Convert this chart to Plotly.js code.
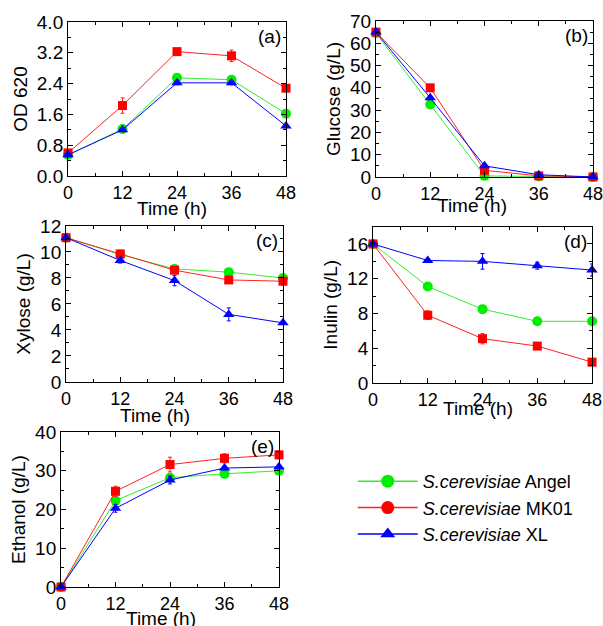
<!DOCTYPE html>
<html><head><meta charset="utf-8">
<script src="https://cdn.plot.ly/plotly-3.0.1.min.js"></script>
<style>body{margin:0;background:#fff}#c{width:603px;height:626px}</style>
</head><body><div id="c"></div>
<script>
const time = [0, 12, 24, 36, 48];
const strains = ['Angel', 'MK01', 'XL'];
// (a) OD620
const odAngel = [0.55, 1.22, 2.55, 2.50, 1.62];
const odMK01 = [0.60, 1.83, 3.23, 3.12, 2.28];
const odXL = [0.55, 1.20, 2.42, 2.42, 1.30];
const odAngelErr = [0.03, 0.05, 0.05, 0.05, 0.05];
const odMK01Err = [0.05, 0.20, 0.05, 0.15, 0.05];
const odXLErr = [0.03, 0.05, 0.05, 0.05, 0.05];
// (b) Glucose
const gluAngel = [64.5, 32.5, 0.5, 0.2, 0.0];
const gluMK01 = [65.0, 40.0, 3.0, 0.5, 0.0];
const gluXL = [65.0, 35.5, 5.0, 1.0, 0.0];
const gluAngelErr = [0.5, 0.8, 0.3, 0.2, 0.1];
const gluMK01Err = [0.5, 0.8, 0.5, 0.2, 0.1];
const gluXLErr = [0.5, 0.8, 0.8, 0.3, 0.1];
// (c) Xylose
const xylAngel = [11.1, 9.80, 8.70, 8.45, 8.00];
const xylMK01 = [11.1, 9.85, 8.60, 7.85, 7.75];
const xylXL = [11.1, 9.35, 7.80, 5.20, 4.55];
const xylAngelErr = [0.1, 0.1, 0.1, 0.1, 0.2];
const xylMK01Err = [0.1, 0.15, 0.15, 0.2, 0.3];
const xylXLErr = [0.1, 0.2, 0.4, 0.5, 0.1];
// (d) Inulin
const inuAngel = [16.0, 11.1, 8.5, 7.1, 7.1];
const inuMK01 = [16.0, 7.8, 5.1, 4.25, 2.4];
const inuXL = [16.0, 14.1, 14.0, 13.5, 13.0];
const inuAngelErr = [0.1, 0.2, 0.2, 0.3, 0.2];
const inuMK01Err = [0.2, 0.5, 0.6, 0.4, 0.2];
const inuXLErr = [0.2, 0.2, 0.9, 0.4, 0.7];
// (e) Ethanol
const ethAngel = [0.0, 22.3, 28.2, 29.2, 30.0];
const ethMK01 = [0.0, 24.7, 31.6, 33.2, 34.1];
const ethXL = [0.0, 20.3, 27.6, 30.7, 31.0];
const ethAngelErr = [0.3, 0.8, 0.8, 0.8, 0.5];
const ethMK01Err = [0.3, 1.3, 1.9, 1.2, 1.0];
const ethXLErr = [0.3, 1.0, 1.0, 0.5, 0.5];

const panelLabels = ['(a)', '(b)', '(c)', '(d)', '(e)'];
const yTitles = ['OD 620', 'Glucose (g/L)', 'Xylose (g/L)', 'Inulin (g/L)', 'Ethanol (g/L)'];
const xTitle = 'Time (h)';

const colors = {Angel: '#00ee00', MK01: '#ff0000', XL: '#0000ff'};
const lineColors = {Angel: '#33ee33', MK01: '#ff2222', XL: '#0000ff'};
const symbols = {Angel: 'circle', MK01: 'square', XL: 'triangle-up'};
const msize = {Angel: 10, MK01: 9, XL: 10};

const panels = [
  {ys: [odAngel, odMK01, odXL], es: [odAngelErr, odMK01Err, odXLErr]},
  {ys: [gluAngel, gluMK01, gluXL], es: [gluAngelErr, gluMK01Err, gluXLErr]},
  {ys: [xylAngel, xylMK01, xylXL], es: [xylAngelErr, xylMK01Err, xylXLErr]},
  {ys: [inuAngel, inuMK01, inuXL], es: [inuAngelErr, inuMK01Err, inuXLErr]},
  {ys: [ethAngel, ethMK01, ethXL], es: [ethAngelErr, ethMK01Err, ethXLErr]}
];

const traces = [];
panels.forEach((p, i) => {
  const xa = i === 0 ? 'x' : 'x' + (i + 1);
  const ya = i === 0 ? 'y' : 'y' + (i + 1);
  strains.forEach((s, j) => {
    traces.push({
      x: time, y: p.ys[j], xaxis: xa, yaxis: ya, type: 'scatter', mode: 'lines+markers',
      line: {color: lineColors[s], width: 1},
      marker: {color: colors[s], symbol: symbols[s], size: msize[s]},
      error_y: {type: 'data', array: p.es[j], visible: true, color: lineColors[s], thickness: 1, width: 2},
      cliponaxis: false, showlegend: false, hoverinfo: 'skip'
    });
  });
});
// legend entries
const legendSymbols = {Angel: 'circle', MK01: 'circle', XL: 'triangle-up'};
strains.forEach(s => {
  traces.push({
    x: [null], y: [null], type: 'scatter', mode: 'lines+markers',
    name: '<i>S.cerevisiae</i> ' + s,
    line: {color: lineColors[s], width: 1.5},
    marker: {color: colors[s], symbol: legendSymbols[s], size: 13},
    showlegend: true
  });
});

const font = {family: 'Liberation Sans, Arial, sans-serif', size: 18, color: '#000'};
const xDomains = [[0.1128, 0.4743], [0.6235, 0.9834], [0.1095, 0.4693], [0.6186, 0.9818], [0.1012, 0.4627]];
const yDomains = [[0.7188, 0.9649], [0.7173, 0.9665], [0.3898, 0.6390], [0.3882, 0.6380], [0.0623, 0.3099]];
const yRanges = [[0, 4], [0, 70], [0, 12], [0, 18], [0, 40]];
const yDtick = [0.8, 10, 2, 4, 10];
const yFormat = ['.1f', '', '', '', ''];
// x-title centre positions (px from top-left)
const xTitlePos = [[172, 208], [472, 206], [155, 415], [478, 408], [161, 618]];

const layout = {
  width: 603, height: 626, margin: {l: 0, r: 0, t: 0, b: 0},
  paper_bgcolor: '#fff', plot_bgcolor: '#fff', font: font,
  showlegend: true,
  legend: {x: 0.585, y: 0.2604, xanchor: 'left', yanchor: 'top', font: {family: font.family, size: 18, color: '#000'},
    tracegroupgap: 0, itemwidth: 60, bgcolor: 'rgba(0,0,0,0)'},
  annotations: [], shapes: []
};
for (let i = 0; i < 5; i++) {
  const sfx = i === 0 ? '' : String(i + 1);
  layout['xaxis' + sfx] = {
    domain: xDomains[i], anchor: 'y' + sfx, range: [0, 48], tickvals: time, ticktext: time.map(String),
    showgrid: false, zeroline: false, showline: true, linecolor: '#000', linewidth: 1, mirror: 'ticks',
    ticks: 'inside', ticklen: 5, tickcolor: '#000', tickfont: {size: 18},
    ticklabeloverflow: 'allow',
    minor: {tickvals: [6, 18, 30, 42], ticks: 'inside', ticklen: 3, tickcolor: '#000'}
  };
  layout['yaxis' + sfx] = {
    domain: yDomains[i], anchor: 'x' + sfx, range: yRanges[i], dtick: yDtick[i], tick0: 0,
    tickformat: yFormat[i], ticklabeloverflow: 'allow',
    showgrid: false, zeroline: false, showline: true, linecolor: '#000', linewidth: 1, mirror: 'ticks',
    ticks: 'inside', ticklen: 5, tickcolor: '#000', tickfont: {size: 19},
    minor: {dtick: yDtick[i] / 2, ticks: 'inside', ticklen: 3, tickcolor: '#000'},
    title: {text: yTitles[i], font: {size: 19}, standoff: 4}
  };
  layout.annotations.push({
    xref: 'x' + sfx + ' domain', yref: 'y' + sfx + ' domain', x: 0.985, y: 0.985,
    xanchor: 'right', yanchor: 'top', text: panelLabels[i], showarrow: false, font: {size: 19}
  });
  layout.annotations.push({
    xref: 'paper', yref: 'paper', x: xTitlePos[i][0] / 603, y: 1 - xTitlePos[i][1] / 626,
    xanchor: 'center', yanchor: 'middle', text: xTitle, showarrow: false, font: {size: 19}
  });
}
Plotly.newPlot('c', traces, layout, {displayModeBar: false, staticPlot: true});
</script></body></html>
